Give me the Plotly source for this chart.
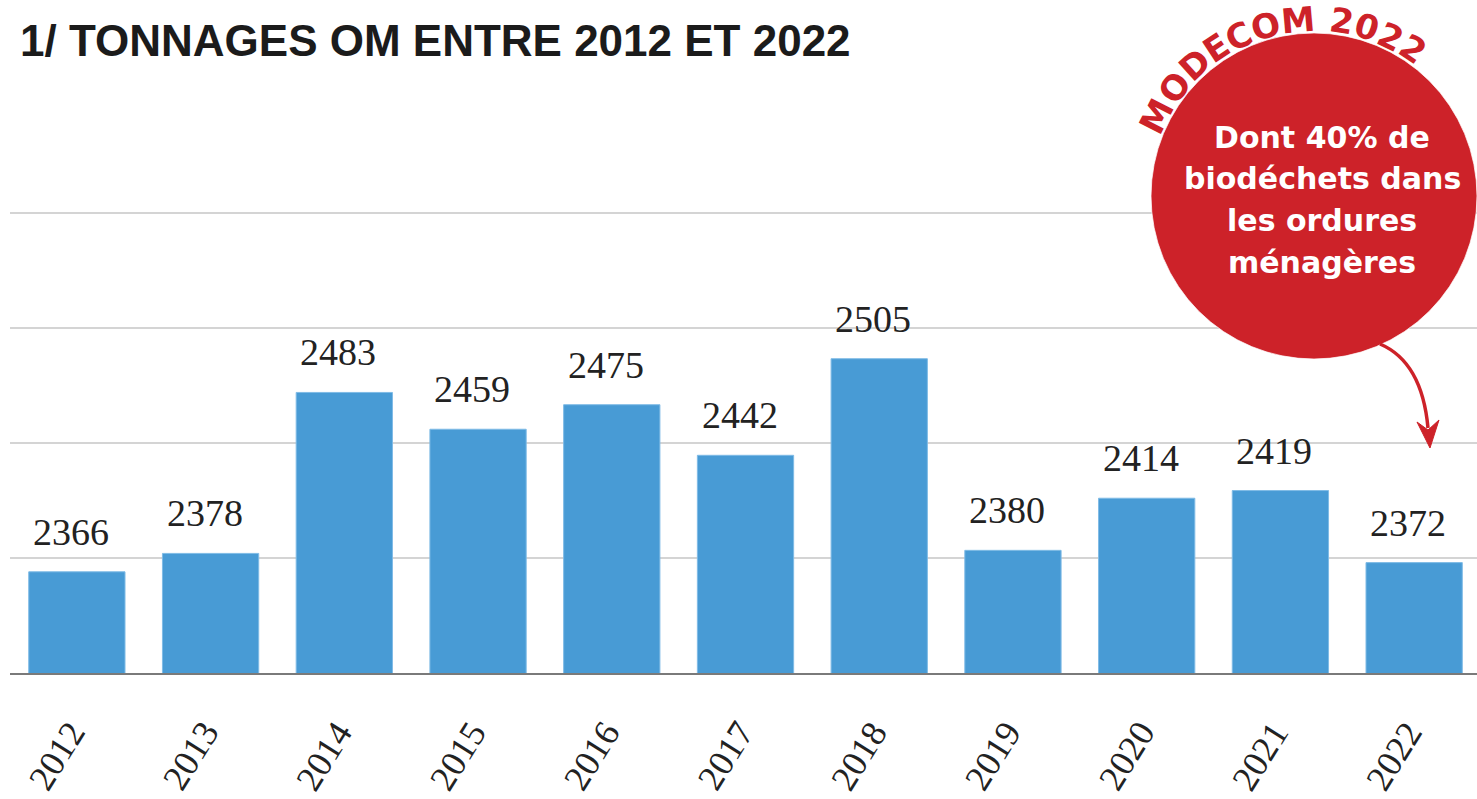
import math
import plotly.graph_objects as go

# ---------------- data ----------------
years = ["2012", "2013", "2014", "2015", "2016", "2017", "2018", "2019", "2020", "2021", "2022"]
tonnages = [2366, 2378, 2483, 2459, 2475, 2442, 2505, 2380, 2414, 2419, 2372]
grid_values = [2300, 2375, 2450, 2525, 2600]

title_text = "1/ TONNAGES OM ENTRE 2012 ET 2022"
bubble_lines = ["Dont 40% de", "biodéchets dans", "les ordures", "ménagères"]
arc_label = "MODECOM 2022"

# ---------------- layout geometry ----------------
W, H = 1477, 799
L, R, T, B = 10, 0, 210, 126
PW, PH = W - L - R, H - T - B

RED = "#cd2229"
BLUE = "#489bd5"


def px(x):
    return (x - L) / PW


def py(y):
    return (H - B - y) / PH


fig = go.Figure()
fig.add_trace(go.Bar(
    x=list(range(len(years))), y=tonnages,
    marker=dict(color=BLUE, line=dict(color="#7fbbe6", width=1)),
    hoverinfo="skip",
))

annotations = []
# value labels and year labels
for i, (yr, v) in enumerate(zip(years, tonnages)):
    annotations.append(dict(
        x=i, y=v, xref="x", yref="y", text=str(v), showarrow=False,
        xanchor="center", yanchor="bottom", yshift=17, xshift=-6,
        font=dict(family="Liberation Serif", size=38, color="#222222"),
    ))
    annotations.append(dict(
        x=i, y=py(756), xref="x", yref="paper", text=yr, showarrow=False,
        xanchor="center", yanchor="middle", textangle=-58, xshift=-20,
        font=dict(family="Liberation Serif", size=36, color="#222222"),
    ))

# title
annotations.append(dict(
    x=px(18), y=py(40), xref="paper", yref="paper", text=title_text,
    showarrow=False, xanchor="left", yanchor="middle",
    font=dict(family="Liberation Sans", size=44, color="#1b1b1b", weight=700),
))

# bubble
cx, cy, rad = 1314, 196, 163
shapes = [
    dict(type="circle", xref="paper", yref="paper",
         x0=px(cx - rad), x1=px(cx + rad), y0=py(cy + rad), y1=py(cy - rad),
         fillcolor=RED, line=dict(color="rgba(255,255,255,0.7)", width=1), layer="above"),
]

line_y = [137, 178, 220, 262]
for txt, ly in zip(bubble_lines, line_y):
    annotations.append(dict(
        x=px(1322), y=py(ly), xref="paper", yref="paper", text=txt,
        showarrow=False, xanchor="center", yanchor="middle",
        font=dict(family="DejaVu Sans", size=30, color="white", weight=700),
    ))

# curved label, laid out along the arc by glyph advance widths (DejaVu Sans Bold)
arc_font = 34
arc_r = 177
adv = {"M": 0.995, "O": 0.850, "D": 0.830, "E": 0.683, "C": 0.734, " ": 0.348, "2": 0.696, "0": 0.696}
start_deg, end_deg = 153.0, 56.0
widths = [adv[c] * arc_font for c in arc_label]
centers = []
acc = 0.0
for w in widths:
    centers.append(acc + w / 2)
    acc += w
span_nat = centers[-1] - centers[0]
span_target = math.radians(start_deg - end_deg) * arc_r
track = (span_target - span_nat) / (len(arc_label) - 1)
for k, ch in enumerate(arc_label):
    if ch == " ":
        continue
    s = centers[k] - centers[0] + k * track
    ang = start_deg - math.degrees(s / arc_r)
    a = math.radians(ang)
    x = cx + arc_r * math.cos(a)
    y = cy - arc_r * math.sin(a)
    annotations.append(dict(
        x=px(x), y=py(y), xref="paper", yref="paper", text=ch,
        showarrow=False, xanchor="center", yanchor="middle", textangle=90 - ang,
        font=dict(family="DejaVu Sans", size=arc_font, color=RED, weight=700),
    ))


# curved arrow
def pt(x, y):
    return f"{px(x):.5f},{py(y):.5f}"


shapes.append(dict(
    type="path", xref="paper", yref="paper",
    path=f"M {pt(1380, 344)} Q {pt(1422, 362)} {pt(1428, 428)}",
    line=dict(color=RED, width=3.5), layer="above",
))
shapes.append(dict(
    type="path", xref="paper", yref="paper",
    path=f"M {pt(1430, 448)} L {pt(1417, 422)} L {pt(1428, 430)} L {pt(1439, 420)} Z",
    fillcolor=RED, line=dict(color=RED, width=1), layer="above",
))

fig.update_layout(
    width=W, height=H,
    margin=dict(l=L, r=R, t=T, b=B, autoexpand=False),
    paper_bgcolor="white", plot_bgcolor="white",
    showlegend=False, bargap=0.28,
    annotations=annotations, shapes=shapes,
    xaxis=dict(
        range=[-0.5, 10.47], showticklabels=False, ticks="",
        showline=True, linecolor="#7a7a7a", linewidth=2,
        showgrid=False, zeroline=False, automargin=False, fixedrange=True,
    ),
    yaxis=dict(
        range=[2300, 2602], tickmode="array", tickvals=grid_values,
        showticklabels=False, showgrid=True, gridcolor="#d4d4d4", gridwidth=1.5,
        zeroline=False, automargin=False, fixedrange=True,
    ),
)

fig.write_html("out.html", config={"displayModeBar": False},
               post_script="document.body.style.margin='0px';")
